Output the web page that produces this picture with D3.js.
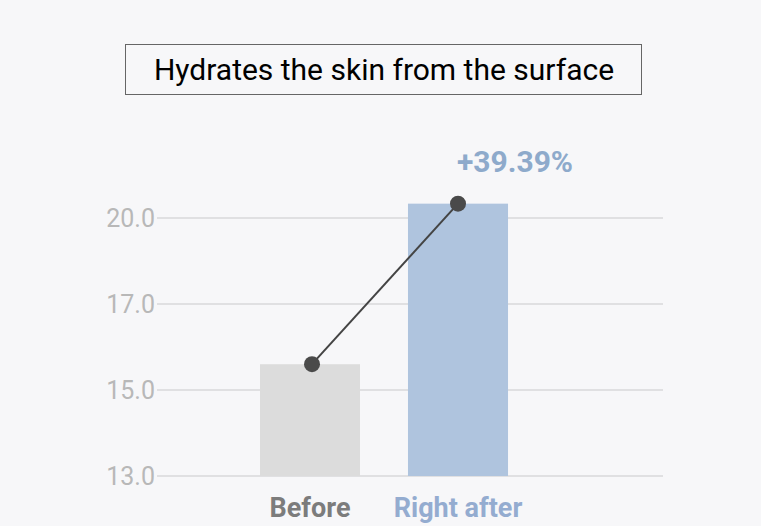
<!DOCTYPE html>
<html><head><meta charset="utf-8">
<script src="https://cdn.jsdelivr.net/npm/d3@7"></script>
<style>
html,body{margin:0;padding:0;background:#f7f7f9;}
svg{display:block;font-family:Roboto, "Noto Sans", sans-serif;}
</style></head>
<body><svg id="c" width="761" height="526"></svg>
<script>
const title = "Hydrates the skin from the surface";
const categories = ["Before", "Right after"];
const values = [15.6, 20.5];
const tickValues = [13, 15, 17, 20];
const tickLabels = ["13.0", "15.0", "17.0", "20.0"];
const changeLabel = "+39.39%";
const barColors = ["#dcdcdc", "#afc4de"];
const labelColors = ["#7c7c7c", "#94acd0"];

const svg = d3.select("#c");
svg.append("rect").attr("width",761).attr("height",526).attr("fill","#f7f7f9");

// title box
svg.append("rect").attr("x",125.5).attr("y",44.5).attr("width",516).attr("height",50)
  .attr("fill","none").attr("stroke","#666").attr("stroke-width",1);
svg.append("text").attr("x",384).attr("y",80).attr("text-anchor","middle")
  .attr("font-size",30).attr("fill","#000").text(title);

// piecewise linear y scale (axis labels are unevenly spaced in value)
const y = d3.scaleLinear().domain(tickValues).range([476,390,304,218]);
const x = d3.scaleBand().domain(categories).range([236,532]).paddingInner(0.324).paddingOuter(0.162);

// grid
svg.append("g").selectAll("line").data(tickValues).join("line")
  .attr("x1",157).attr("x2",663).attr("y1",d=>y(d)).attr("y2",d=>y(d))
  .attr("stroke","#e0e0e2").attr("stroke-width",2);

const ax = svg.append("g").attr("transform","translate(157,0)").call(
  d3.axisLeft(y).tickValues(tickValues).tickFormat((d,i)=>tickLabels[i]).tickSize(0).tickPadding(2));
ax.select(".domain").remove();
ax.selectAll("text").attr("font-size",25).attr("fill","#b8b8b8").attr("font-family","Roboto, sans-serif");

// bars
svg.append("g").selectAll("rect").data(values).join("rect")
  .attr("x",(d,i)=>x(categories[i])).attr("width",x.bandwidth())
  .attr("y",d=>y(d)).attr("height",d=>y(13)-y(d))
  .attr("fill",(d,i)=>barColors[i]);

// connecting line + dots
const cx = (d,i)=> i===0 ? x(categories[i]) + x.bandwidth()*0.52 : x(categories[i]) + x.bandwidth()*0.5;
const pts = values.map((v,i)=>[cx(v,i), y(v)]);
svg.append("path").attr("d", d3.line()(pts)).attr("stroke","#444").attr("stroke-width",2).attr("fill","none");
svg.append("g").selectAll("circle").data(pts).join("circle")
  .attr("cx",d=>d[0]).attr("cy",d=>d[1]).attr("r",8).attr("fill","#4a4a4a");

// change label
svg.append("text").attr("x",515).attr("y",172).attr("text-anchor","middle")
  .attr("font-size",30).attr("font-weight","bold").attr("fill","#8eaacb").text(changeLabel);

// x labels
svg.append("g").selectAll("text").data(categories).join("text")
  .attr("x",(d,i)=>x(d)+x.bandwidth()/2).attr("y",517).attr("text-anchor","middle")
  .attr("font-size",27).attr("font-weight","bold").attr("fill",(d,i)=>labelColors[i]).text(d=>d);
</script></body></html>
